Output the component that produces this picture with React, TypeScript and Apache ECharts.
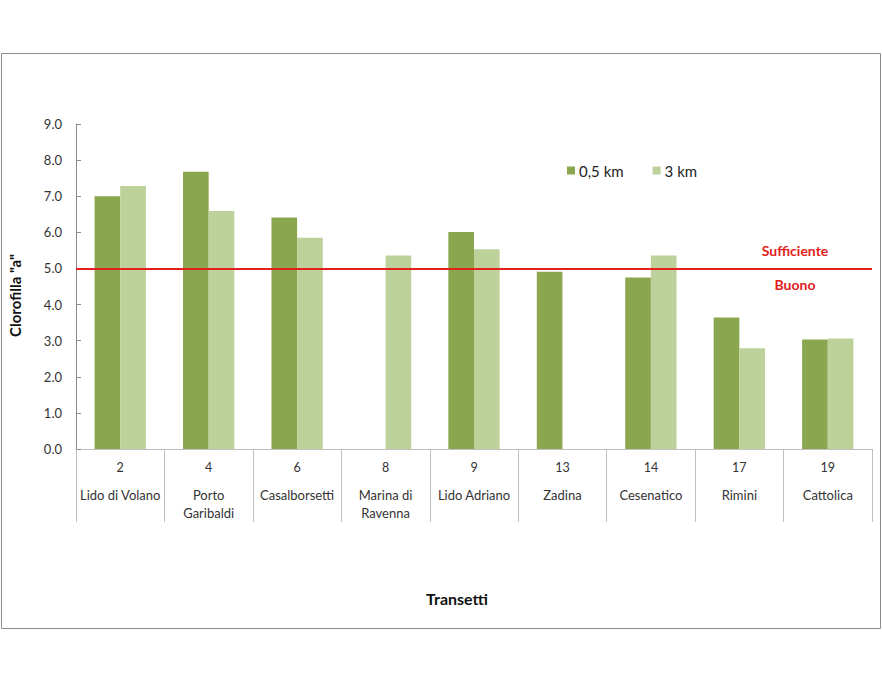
import React, { useEffect, useRef } from "react";
import * as echarts from "echarts";

const transectNumbers = ["2", "4", "6", "8", "9", "13", "14", "17", "19"];
const transectNames = [
  "Lido di Volano",
  "Porto\nGaribaldi",
  "Casalborsetti",
  "Marina di\nRavenna",
  "Lido Adriano",
  "Zadina",
  "Cesenatico",
  "Rimini",
  "Cattolica",
];
const series05km: (number | null)[] = [7.0, 7.68, 6.41, null, 6.01, 4.91, 4.75, 3.64, 3.03];
const series3km: (number | null)[] = [7.28, 6.59, 5.85, 5.36, 5.53, null, 5.36, 2.79, 3.06];
const thresholdValue = 5.0;
const yTicks = [0, 9, 1]; // min, max, interval

const FONT = "Lato, 'Open Sans', sans-serif";

export default function App() {
  const ref = useRef<HTMLDivElement>(null);
  useEffect(() => {
    document.body.style.margin = "0";
    if (!ref.current) return;
    const chart = echarts.init(ref.current, null, { renderer: "svg" });
    const categories = transectNumbers.map((n, i) => n + "|" + transectNames[i]);
    chart.setOption({
      animation: false,
      backgroundColor: "#ffffff",
      textStyle: { fontFamily: FONT },
      grid: {
        left: 76,
        right: 10,
        top: 124,
        bottom: 233,
        containLabel: false,
        outerBoundsMode: "none",
      },
      legend: {
        left: 567,
        top: 163,
        padding: 0,
        itemWidth: 8,
        itemHeight: 8,
        itemGap: 29,
        icon: "rect",
        textStyle: { fontSize: 15, color: "#222", fontFamily: FONT, padding: [0, 0, 0, -1] },
        data: ["0,5 km", "3 km"],
      },
      xAxis: {
        type: "category",
        data: categories,
        name: "Transetti",
        nameLocation: "middle",
        nameGap: 141,
        nameTextStyle: {
          fontSize: 16,
          fontWeight: "bold",
          color: "#111",
          fontFamily: FONT,
          padding: [0, 34, 0, 0],
        },
        axisLine: { lineStyle: { color: "#bfbfbf", width: 1 } },
        axisTick: { show: true, length: 73, lineStyle: { color: "#bfbfbf" } },
        axisLabel: {
          interval: 0,
          margin: 9,
          formatter: (v: string) => {
            const [num, name] = v.split("|");
            const nameLines = name.split("\n").map((l) => "{t|" + l + "}").join("\n");
            return "{n|" + num + "}\n{s| }\n" + nameLines;
          },
          rich: {
            n: { fontSize: 12.5, lineHeight: 18, color: "#333", fontFamily: FONT },
            s: { fontSize: 6, lineHeight: 10 },
            t: { fontSize: 13, lineHeight: 18, color: "#333", fontFamily: FONT },
          },
        },
      },
      yAxis: {
        type: "value",
        min: yTicks[0],
        max: yTicks[1],
        interval: yTicks[2],
        name: 'Clorofilla "a"',
        nameLocation: "middle",
        nameGap: 54,
        nameTextStyle: {
          fontSize: 15,
          fontWeight: "bold",
          color: "#111",
          fontFamily: FONT,
          padding: [0, 18, 0, 0],
        },
        axisLine: { show: true, lineStyle: { color: "#8c8c8c" } },
        axisTick: { show: true, inside: true, length: 5, lineStyle: { color: "#8c8c8c" } },
        splitLine: { show: false },
        axisLabel: {
          margin: 14,
          fontSize: 13,
          color: "#333",
          fontFamily: FONT,
          formatter: (v: number) => v.toFixed(1),
        },
      },
      series: [
        {
          name: "0,5 km",
          type: "bar",
          data: series05km.map((v) => (v === null ? "-" : v)),
          barGap: "0%",
          barCategoryGap: "42%",
          itemStyle: { color: "#8aa64f" },
          markLine: {
            silent: true,
            symbol: ["none", "none"],
            label: { show: false },
            lineStyle: { color: "#e3201b", width: 2, type: "solid" },
            data: [{ yAxis: thresholdValue }],
          },
        },
        {
          name: "3 km",
          type: "bar",
          data: series3km.map((v) => (v === null ? "-" : v)),
          barGap: "0%",
          barCategoryGap: "42%",
          itemStyle: { color: "#bdd29a" },
        },
      ],
      graphic: [
        {
          type: "rect",
          shape: { x: 1.5, y: 53.5, width: 879, height: 575 },
          style: { fill: "none", stroke: "#8c8c8c", lineWidth: 1 },
          silent: true,
          z: -1,
        },
        {
          type: "text",
          x: 795,
          y: 250,
          style: {
            text: "Sufficiente",
            fill: "#e3201b",
            font: "bold 14px " + FONT,
            align: "center",
            verticalAlign: "middle",
          },
        },
        {
          type: "text",
          x: 795,
          y: 284,
          style: {
            text: "Buono",
            fill: "#e3201b",
            font: "bold 14px " + FONT,
            align: "center",
            verticalAlign: "middle",
          },
        },
      ],
    });
    return () => chart.dispose();
  }, []);
  return <div ref={ref} style={{ width: 882, height: 682 }} />;
}
